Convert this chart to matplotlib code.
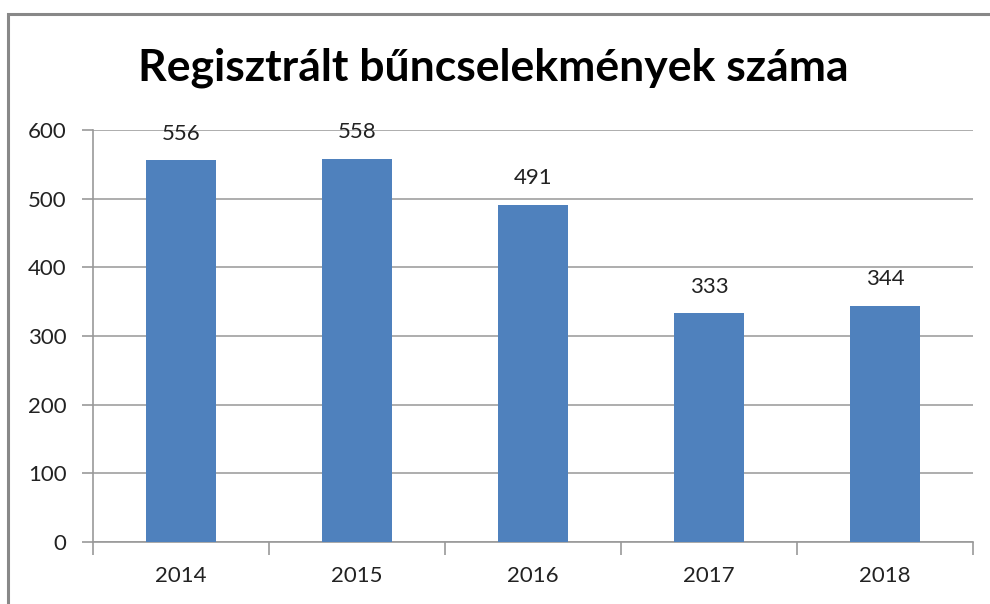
import matplotlib
matplotlib.use("Agg")
import matplotlib.pyplot as plt
from matplotlib.patches import Rectangle
import numpy as np

years = ["2014", "2015", "2016", "2017", "2018"]
counts = [556, 558, 491, 333, 344]
yticks = [0, 100, 200, 300, 400, 500, 600]
title = "Regisztrált bűncselekmények száma"

plt.rcParams['font.family'] = ['Lato', 'DejaVu Sans']

W, H = 990, 604
fig = plt.figure(figsize=(W/100, H/100), dpi=100)
fig.patches.append(Rectangle((8/W, -0.1), 1.2, (H-14)/H + 0.1, transform=fig.transFigure,
                             fill=False, edgecolor='#888888', linewidth=2.2))

ax = fig.add_axes([93/W, 1-542/H, (973-93)/W, (542-130)/H])
x = np.arange(len(years))
ax.bar(x, counts, width=0.4, color='#4F81BD', zorder=3)
for xi, v in zip(x, counts):
    ax.annotate(str(v), (xi, v), xytext=(0, 12), textcoords='offset points',
                ha='center', va='bottom', fontsize=16, color='#222222')

ax.set_xlim(-0.5, len(years)-0.5)
ax.set_ylim(0, 600)
ax.set_yticks(yticks)
ax.set_yticklabels([str(t) for t in yticks], fontsize=16, color='#222222')
ax.set_xticks(x)
ax.set_xticklabels(years, fontsize=16, color='#222222')
ax.tick_params(axis='x', length=0, pad=17)
ax.set_xticks(np.arange(-0.5, len(years)), minor=True)
ax.tick_params(axis='x', which='minor', length=9, color='#999999', width=1.2)
ax.tick_params(axis='y', length=8, color='#999999', width=1.2, pad=11)
ax.grid(axis='y', color='#a0a0a0', linewidth=1.2, zorder=0)
for s in ['top', 'right']:
    ax.spines[s].set_visible(False)
for s in ['left', 'bottom']:
    ax.spines[s].set_color('#999999')
    ax.spines[s].set_linewidth(1.2)

fig.text(493/W, 1-68/H, title, ha='center', va='center', fontsize=32, fontweight='bold')

fig.savefig("out.png", dpi=100)
